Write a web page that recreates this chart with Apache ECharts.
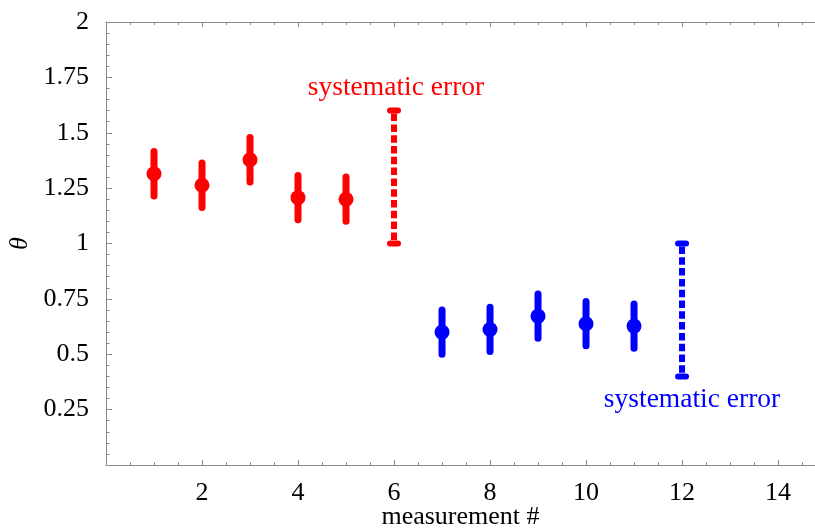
<!DOCTYPE html>
<html>
<head>
<meta charset="utf-8">
<script src="https://cdn.jsdelivr.net/npm/echarts@6/dist/echarts.min.js"></script>
<style>
  html, body { margin: 0; padding: 0; background: #ffffff; }
  #chart { width: 815px; height: 528px; }
</style>
</head>
<body>
<div id="chart"></div>
<script>
// Measurements: index, value of theta, statistical uncertainty
const redX   = [1, 2, 3, 4, 5];
const redY   = [1.315, 1.263, 1.378, 1.207, 1.2];
const redErr = [0.1, 0.1, 0.1, 0.1, 0.1];

const blueX   = [7, 8, 9, 10, 11];
const blueY   = [0.6, 0.612, 0.672, 0.638, 0.627];
const blueErr = [0.1, 0.1, 0.1, 0.1, 0.1];

// Systematic error ranges: [x, low, high]
const redSyst  = [6, 1.0, 1.6];
const blueSyst = [12, 0.4, 1.0];
const systText = 'systematic error';

// Axis ranges and tick spacing
const xRange = [0, 14.77];
const xStep = 2;
const yRange = [0, 2];
const yStep = 0.25;

const xName = 'measurement #';
const yName = 'θ';

const RED = '#ff0000';
const BLUE = '#0000ff';
const FRAME = '#8a8a8a';
const SERIF = '"Liberation Serif", "Times New Roman", serif';

function zip3(a, b, c) { return a.map((v, i) => [v, b[i], c[i]]); }

// Vertical bar with round ends and a dot at the central value
function errorBarRenderer(color) {
  return function (params, api) {
    const x = api.value(0), y = api.value(1), e = api.value(2);
    const hi = api.coord([x, y + e]);
    const lo = api.coord([x, y - e]);
    const c = api.coord([x, y]);
    return {
      type: 'group',
      children: [
        { type: 'line', shape: { x1: hi[0], y1: hi[1], x2: lo[0], y2: lo[1] },
          style: { stroke: color, lineWidth: 7, lineCap: 'round' } },
        { type: 'circle', shape: { cx: c[0], cy: c[1], r: 7.5 },
          style: { fill: color } }
      ]
    };
  };
}

// Dashed range bar with end caps and a caption above or below
function systRenderer(color, captionSide) {
  return function (params, api) {
    const x = api.value(0), lo = api.value(1), hi = api.value(2);
    const top = api.coord([x, hi]);
    const bot = api.coord([x, lo]);
    const capHalf = 4;
    const children = [
      { type: 'line', shape: { x1: top[0], y1: top[1] + 3, x2: bot[0], y2: bot[1] - 3 },
        style: { stroke: color, lineWidth: 6, lineCap: 'butt', lineDash: [7.5, 3.3] } },
      { type: 'line', shape: { x1: top[0] - capHalf, y1: top[1], x2: top[0] + capHalf, y2: top[1] },
        style: { stroke: color, lineWidth: 6, lineCap: 'round' } },
      { type: 'line', shape: { x1: bot[0] - capHalf, y1: bot[1], x2: bot[0] + capHalf, y2: bot[1] },
        style: { stroke: color, lineWidth: 6, lineCap: 'round' } }
    ];
    const tx = captionSide === 'top' ? top[0] + 2 : bot[0] + 10;
    const ty = captionSide === 'top' ? top[1] - 23 : bot[1] + 23;
    children.push({
      type: 'text',
      style: { text: systText, x: tx, y: ty, fill: color,
               font: '27.5px ' + SERIF, align: 'center', verticalAlign: 'middle' }
    });
    return { type: 'group', children: children };
  };
}

const chart = echarts.init(document.getElementById('chart'), null, { renderer: 'canvas' });

const frameAxisBase = {
  type: 'value',
  axisLine: { show: true, lineStyle: { color: FRAME, width: 1 } },
  splitLine: { show: false }
};

chart.setOption({
  animation: false,
  backgroundColor: '#ffffff',
  grid: { left: 106, right: 0, top: 22, bottom: 63, containLabel: false, outerBoundsMode: 'none' },
  xAxis: [
    Object.assign({}, frameAxisBase, {
      position: 'bottom',
      min: xRange[0], max: xRange[1], interval: xStep,
      name: xName, nameLocation: 'middle', nameGap: 39, nameMoveOverlap: false,
      nameTextStyle: { fontFamily: SERIF, fontSize: 26, color: '#000' },
      axisTick: { show: true, inside: true, length: 5, lineStyle: { color: FRAME } },
      minorTick: { show: true, splitNumber: 4, length: 3, lineStyle: { color: FRAME } },
      axisLabel: {
        show: true, margin: 15, color: '#000', fontFamily: SERIF, fontSize: 26,
        showMinLabel: false, showMaxLabel: false,
        formatter: v => (v === 0 || v > 14) ? '' : String(v)
      }
    }),
    Object.assign({}, frameAxisBase, {
      position: 'top',
      min: xRange[0], max: xRange[1], interval: xStep,
      axisTick: { show: true, inside: true, length: 5, lineStyle: { color: FRAME } },
      minorTick: { show: true, splitNumber: 4, length: 3, lineStyle: { color: FRAME } },
      axisLabel: { show: false }
    })
  ],
  yAxis: [
    Object.assign({}, frameAxisBase, {
      position: 'left',
      min: yRange[0], max: yRange[1], interval: yStep,
      name: yName, nameLocation: 'middle', nameGap: 73, nameRotate: 90, nameMoveOverlap: false,
      nameTextStyle: { fontFamily: SERIF, fontSize: 26, fontStyle: 'italic', color: '#000' },
      axisTick: { show: true, inside: true, length: 6, lineStyle: { color: FRAME } },
      minorTick: { show: true, splitNumber: 5, length: 3.5, lineStyle: { color: FRAME } },
      axisLabel: {
        show: true, margin: 17, color: '#000', fontFamily: SERIF, fontSize: 26,
        showMinLabel: false,
        formatter: v => v === 0 ? '' : String(v)
      }
    })
  ],
  series: [
    {
      type: 'custom', name: 'red', xAxisIndex: 0, yAxisIndex: 0,
      renderItem: errorBarRenderer(RED),
      data: zip3(redX, redY, redErr), clip: false
    },
    {
      type: 'custom', name: 'blue', xAxisIndex: 0, yAxisIndex: 0,
      renderItem: errorBarRenderer(BLUE),
      data: zip3(blueX, blueY, blueErr), clip: false
    },
    {
      type: 'custom', name: 'red systematic', xAxisIndex: 0, yAxisIndex: 0,
      renderItem: systRenderer(RED, 'top'),
      data: [redSyst], clip: false
    },
    {
      type: 'custom', name: 'blue systematic', xAxisIndex: 0, yAxisIndex: 0,
      renderItem: systRenderer(BLUE, 'bottom'),
      data: [blueSyst], clip: false
    }
  ]
});
</script>
</body>
</html>
